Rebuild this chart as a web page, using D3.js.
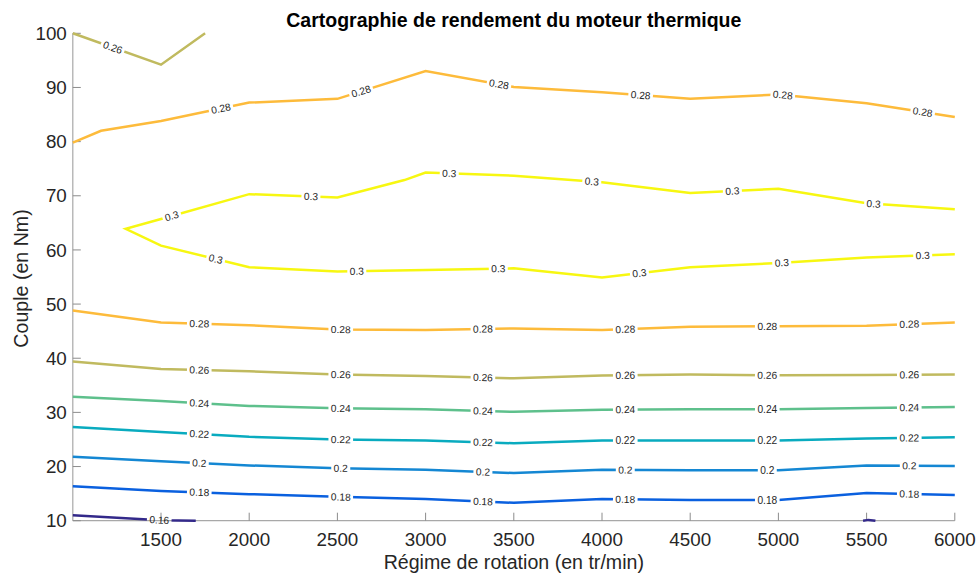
<!DOCTYPE html>
<html>
<head>
<meta charset="utf-8">
<script src="https://cdn.jsdelivr.net/npm/d3@7"></script>
<style>
  html, body { margin: 0; padding: 0; background: #fff; }
  svg { display: block; font-family: "Liberation Sans", Arial, Helvetica, sans-serif; }
</style>
</head>
<body>
<svg id="chart" width="980" height="575"></svg>
<script>
// ---------------- DATA ----------------
const titleText = "Cartographie de rendement du moteur thermique";
const xLabelText = "Régime de rotation (en tr/min)";
const yLabelText = "Couple (en Nm)";

const xTicks = [1500, 2000, 2500, 3000, 3500, 4000, 4500, 5000, 5500, 6000];
const yTicks = [10, 20, 30, 40, 50, 60, 70, 80, 90, 100];

const levels = [0.16, 0.18, 0.2, 0.22, 0.24, 0.26, 0.28, 0.3];
const levelColors = ["#33298a", "#0a60df", "#1487d3", "#09abbf", "#5ec08c", "#c0ba5f", "#fdbb3b", "#f7f711"];

// contour polylines [regime, couple]
const c016a = [[1000, 11.0], [1500, 10.1], [1697, 10.0]];
const c016b = [[5480, 10.0], [5510, 10.15], [5550, 10.0]];
const c018 = [[1000, 16.35], [1500, 15.5], [2000, 14.9], [2500, 14.4], [3000, 14.0], [3500, 13.3], [4000, 14.0], [4500, 13.8], [5000, 13.8], [5500, 15.1], [6000, 14.75]];
const c020 = [[1000, 21.8], [1500, 21.0], [2000, 20.2], [2500, 19.7], [3000, 19.4], [3500, 18.8], [4000, 19.4], [4500, 19.3], [5000, 19.3], [5500, 20.2], [6000, 20.1]];
const c022 = [[1000, 27.3], [1500, 26.4], [2000, 25.5], [2500, 25.0], [3000, 24.8], [3500, 24.3], [4000, 24.8], [4500, 24.8], [5000, 24.8], [5500, 25.2], [6000, 25.4]];
const c024 = [[1000, 32.9], [1500, 32.1], [2000, 31.2], [2500, 30.75], [3000, 30.6], [3500, 30.1], [4000, 30.5], [4500, 30.6], [5000, 30.6], [5500, 30.8], [6000, 31.0]];
const c026 = [[1000, 39.4], [1500, 38.0], [2000, 37.6], [2500, 37.0], [3000, 36.7], [3500, 36.3], [4000, 36.8], [4500, 37.0], [5000, 36.85], [5500, 36.9], [6000, 37.0]];
const c028 = [[1000, 48.8], [1500, 46.6], [2000, 46.1], [2500, 45.3], [3000, 45.2], [3500, 45.5], [4000, 45.2], [4500, 45.8], [5000, 45.9], [5500, 46.0], [6000, 46.6]];
const c030lower = [[1300, 63.9], [1500, 60.8], [2000, 56.8], [2500, 56.0], [3000, 56.3], [3500, 56.6], [4000, 54.9], [4500, 56.8], [5000, 57.6], [5500, 58.6], [6000, 59.2]];
const c030upper = [[1300, 63.9], [1500, 65.7], [2000, 70.3], [2500, 69.7], [2880, 72.9], [3000, 74.3], [3500, 73.7], [4000, 72.5], [4500, 70.5], [5000, 71.3], [5500, 68.6], [6000, 67.5]];
const c028top = [[1000, 79.8], [1160, 82.0], [1500, 83.8], [2000, 87.2], [2500, 87.9], [3000, 93.05], [3500, 90.1], [4000, 89.1], [4500, 87.9], [5000, 88.7], [5500, 87.1], [6000, 84.55]];
const c026top = [[1000, 100], [1500, 94.2], [1750, 100]];

// label positions along each contour (regime value)
const labelsLow = [1717, 2519, 3325, 4132, 4937, 5742];
const labels016 = [1490];
const labels026top = [1226];
const labels028top = [1840, 2634, 3416, 4219, 5025, 5818];
const labels030upper = [1561, 2350, 3134, 3942, 4739, 5540];
const labels030lower = [1810, 2610, 3412, 4212, 5019, 5818];

// contours: level, polyline(s) drawn, and label branches
const contours = [
  { level: 0.16, lines: [c016a, c016b], branches: [[c016a, labels016]] },
  { level: 0.18, lines: [c018], branches: [[c018, labelsLow]] },
  { level: 0.2,  lines: [c020], branches: [[c020, labelsLow]] },
  { level: 0.22, lines: [c022], branches: [[c022, labelsLow]] },
  { level: 0.24, lines: [c024], branches: [[c024, labelsLow]] },
  { level: 0.26, lines: [c026], branches: [[c026, labelsLow]] },
  { level: 0.28, lines: [c028], branches: [[c028, labelsLow]] },
  { level: 0.3,  lines: [c030upper.slice().reverse().concat(c030lower.slice(1))], branches: [[c030upper, labels030upper], [c030lower, labels030lower]] },
  { level: 0.28, lines: [c028top], branches: [[c028top, labels028top]] },
  { level: 0.26, lines: [c026top], branches: [[c026top, labels026top]] }
];

// ---------------- CHART ----------------
const svg = d3.select("#chart");
const W = 980, H = 575;
const mLeft = 72.8, mRight = 954.8, mTop = 33.3, mBottom = 520.7;

const x = d3.scaleLinear().domain([1000, 6000]).range([mLeft, mRight]);
const y = d3.scaleLinear().domain([10, 100]).range([mBottom, mTop]);
const color = d3.scaleOrdinal().domain(levels).range(levelColors);
const fmt = v => String(+v.toFixed(2));
const line = d3.line().x(d => x(d[0])).y(d => y(d[1]));

// ---------------- AXES (below data, like MATLAB default layer) ----------------
const axisCol = "#a8a8a8";
const tickCol = "#8c8c8c";
const tickLen = 8;
const tickFont = 18.8;
const gAx = svg.append("g");

gAx.append("line").attr("x1", mLeft).attr("x2", mRight).attr("y1", mBottom).attr("y2", mBottom)
  .attr("stroke", axisCol).attr("stroke-width", 1.2);
gAx.append("line").attr("x1", mLeft).attr("x2", mLeft).attr("y1", mTop).attr("y2", mBottom)
  .attr("stroke", axisCol).attr("stroke-width", 1.2);

xTicks.forEach(v => {
  gAx.append("line").attr("x1", x(v)).attr("x2", x(v)).attr("y1", mBottom).attr("y2", mBottom - tickLen)
    .attr("stroke", tickCol).attr("stroke-width", 1);
  gAx.append("text").attr("x", x(v)).attr("y", mBottom + 25.5)
    .attr("text-anchor", "middle").attr("font-size", tickFont).attr("fill", "#262626").text(v);
});
yTicks.forEach(v => {
  gAx.append("line").attr("x1", mLeft).attr("x2", mLeft + tickLen).attr("y1", y(v)).attr("y2", y(v))
    .attr("stroke", tickCol).attr("stroke-width", 1);
  gAx.append("text").attr("x", mLeft - 6).attr("y", y(v)).attr("dy", "0.35em")
    .attr("text-anchor", "end").attr("font-size", tickFont).attr("fill", "#262626").text(v);
});

// ---------------- CONTOURS ----------------
const defs = svg.append("defs");
const mask = defs.append("mask").attr("id", "gapMask").attr("maskUnits", "userSpaceOnUse")
  .attr("x", 0).attr("y", 0).attr("width", W).attr("height", H);
mask.append("rect").attr("x", 0).attr("y", 0).attr("width", W).attr("height", H).attr("fill", "#fff");

const gLines = svg.append("g").attr("mask", "url(#gapMask)");
const gLabels = svg.append("g");

const fontLab = 10.2;
const pad = 2.4;

contours.forEach(c => {
  c.lines.forEach(pts => {
    gLines.append("path")
      .attr("d", line(pts))
      .attr("fill", "none")
      .attr("stroke", color(c.level))
      .attr("stroke-width", 2.5)
      .attr("stroke-linejoin", "miter")
      .attr("stroke-miterlimit", 10);
  });
  c.branches.forEach(([pts, lx]) => {
    lx.forEach(xv => {
      let seg = null;
      for (let i = 0; i < pts.length - 1; i++) {
        const a = pts[i], b = pts[i + 1];
        if ((xv >= a[0] && xv <= b[0]) || (xv <= a[0] && xv >= b[0])) { seg = [a, b]; break; }
      }
      if (!seg) return;
      const [a, b] = seg;
      const t = (xv - a[0]) / (b[0] - a[0]);
      const px = x(xv);
      const py = y(a[1] + t * (b[1] - a[1]));
      let ang = Math.atan2(y(b[1]) - y(a[1]), x(b[0]) - x(a[0])) * 180 / Math.PI;
      if (ang > 90) ang -= 180;
      if (ang < -90) ang += 180;
      const tr = `translate(${px},${py}) rotate(${ang})`;
      const txt = gLabels.append("text")
        .attr("transform", tr)
        .attr("text-anchor", "middle")
        .attr("dy", "0.35em")
        .attr("font-size", fontLab)
        .attr("fill", "#262626")
        .text(fmt(c.level));
      const w = txt.node().getComputedTextLength();
      mask.append("rect")
        .attr("transform", tr)
        .attr("x", -w / 2 - pad)
        .attr("y", -5)
        .attr("width", w + 2 * pad)
        .attr("height", 10)
        .attr("fill", "#000");
    });
  });
});

// ---------------- TEXTS ----------------
svg.append("text").attr("x", (mLeft + mRight) / 2).attr("y", 568.5)
  .attr("text-anchor", "middle").attr("font-size", 19.6).attr("fill", "#262626").text(xLabelText);
svg.append("text").attr("transform", `translate(27.5,${278.5}) rotate(-90)`)
  .attr("text-anchor", "middle").attr("font-size", 19.6).attr("fill", "#262626").text(yLabelText);
svg.append("text").attr("x", (mLeft + mRight) / 2).attr("y", 27)
  .attr("text-anchor", "middle").attr("font-size", 19.5).attr("font-weight", "bold").attr("fill", "#000").text(titleText);
</script>
</body>
</html>
